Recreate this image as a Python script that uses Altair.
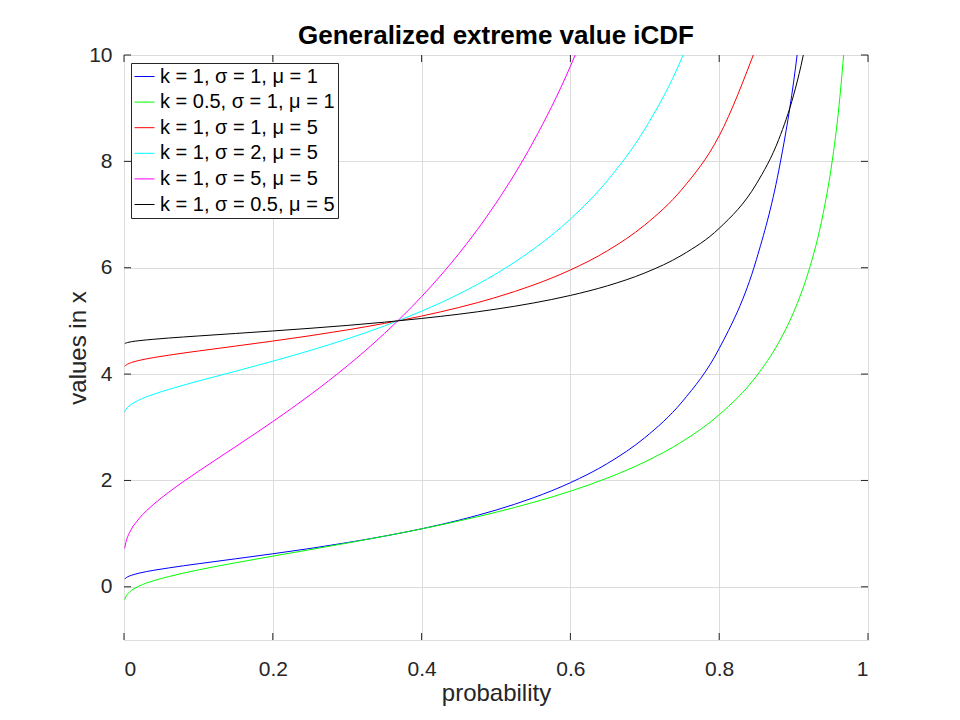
import altair as alt
import pandas as pd

# probabilities at which values are read
prob = [0.001, 0.002, 0.003, 0.005, 0.01, 0.02, 0.04, 0.06, 0.08, 0.1,
        0.15, 0.2, 0.25, 0.3, 0.35, 0.4, 0.45, 0.5, 0.55, 0.6,
        0.65, 0.7, 0.75, 0.8, 0.85, 0.88, 0.9, 0.91, 0.92, 0.94,
        0.95, 0.96, 0.97]

blue_k1_s1_m1 = [0.145, 0.161, 0.172, 0.189, 0.217, 0.256, 0.311, 0.355, 0.396, 0.434,
                 0.527, 0.621, 0.721, 0.831, 0.953, 1.091, 1.252, 1.443, 1.673, 1.958,
                 2.321, 2.804, 3.476, 4.481, 6.153, 7.823, 9.491, 10.603]
green_k05_s1_m1 = [-0.239, -0.198, -0.170, -0.131, -0.068, 0.011, 0.115, 0.192, 0.258, 0.318,
                   0.452, 0.577, 0.699, 0.823, 0.952, 1.089, 1.238, 1.402, 1.587, 1.798,
                   2.047, 2.349, 2.729, 3.235, 3.962, 4.594, 5.161, 5.513, 5.925, 7.039,
                   7.830, 8.901, 10.46]
red_k1_s1_m5 = [4.145, 4.161, 4.172, 4.189, 4.217, 4.256, 4.311, 4.355, 4.396, 4.434,
                4.527, 4.621, 4.721, 4.831, 4.953, 5.091, 5.252, 5.443, 5.673, 5.958,
                6.321, 6.804, 7.476, 8.481, 10.153]
cyan_k1_s2_m5 = [3.290, 3.322, 3.344, 3.377, 3.434, 3.511, 3.621, 3.711, 3.792, 3.869,
                 4.054, 4.243, 4.443, 4.661, 4.905, 5.183, 5.505, 5.885, 6.346, 6.915,
                 7.643, 8.607, 9.952, 11.963]
magenta_k1_s5_m5 = [0.724, 0.805, 0.861, 0.944, 1.086, 1.278, 1.554, 1.777, 1.980, 2.172,
                    2.636, 3.107, 3.607, 4.153, 4.763, 5.457, 6.262, 7.214, 8.364, 9.788,
                    11.607]
black_k1_s05_m5 = [4.572, 4.580, 4.586, 4.594, 4.609, 4.628, 4.655, 4.678, 4.698, 4.717,
                   4.764, 4.811, 4.861, 4.915, 4.976, 5.046, 5.126, 5.221, 5.336, 5.479,
                   5.661, 5.902, 6.238, 6.741, 7.577, 8.411, 9.246, 9.802, 10.495]

series_names = ["k = 1, σ = 1, μ = 1", "k = 0.5, σ = 1, μ = 1", "k = 1, σ = 1, μ = 5",
                "k = 1, σ = 2, μ = 5", "k = 1, σ = 5, μ = 5", "k = 1, σ = 0.5, μ = 5"]
series_values = [blue_k1_s1_m1, green_k05_s1_m1, red_k1_s1_m5,
                 cyan_k1_s2_m5, magenta_k1_s5_m5, black_k1_s05_m5]
series_colors = ["#0000ff", "#00ff00", "#ff0000", "#00ffff", "#ff00ff", "#000000"]

x_ticks = [0, 0.2, 0.4, 0.6, 0.8, 1]
y_ticks = [0, 2, 4, 6, 8, 10]

rows = []
for i, (name, vals) in enumerate(zip(series_names, series_values)):
    for p, v in zip(prob, vals):
        rows.append({"p": p, "x": v, "series": name, "order": i})
df = pd.DataFrame(rows)

W, H = 744, 585
FONT = "Liberation Sans"
TXT = "#262626"

xscale = alt.Scale(domain=[0, 1], nice=False, zero=False)
yscale = alt.Scale(domain=[-1, 10], nice=False, zero=False)

lines = alt.Chart(df).mark_line(strokeWidth=1, clip=True, interpolate="monotone").encode(
    x=alt.X("p:Q", scale=xscale,
            axis=alt.Axis(values=x_ticks, format="~g", title="probability",
                          grid=True, gridColor="#dcdcdc", domain=False, ticks=False,
                          labelFontSize=21, labelColor=TXT, labelPadding=18, labelFont=FONT,
                          titleFontSize=24, titleColor=TXT, titleFont=FONT, titleFontWeight="normal",
                          titlePadding=2)),
    y=alt.Y("x:Q", scale=yscale,
            axis=alt.Axis(values=y_ticks, format="d", title="values in x",
                          grid=True, gridColor="#dcdcdc", domain=False, ticks=False,
                          labelFontSize=21, labelColor=TXT, labelPadding=12, labelFont=FONT,
                          titleFontSize=24, titleColor=TXT, titleFont=FONT, titleFontWeight="normal",
                          titlePadding=-2)),
    color=alt.Color("series:N",
                    scale=alt.Scale(domain=series_names, range=series_colors),
                    legend=alt.Legend(title=None, orient="none", legendX=7, legendY=8,
                                      symbolType="stroke", symbolSize=400, symbolStrokeWidth=1,
                                      labelFontSize=20, labelFont=FONT, labelColor="#000000",
                                      labelLimit=400,
                                      rowPadding=4.6, padding=3, labelOffset=5,
                                      strokeColor=TXT, fillColor="white", cornerRadius=0)),
    detail="series:N",
    order="p:Q",
)

ydf = pd.DataFrame({"v": y_ticks})
xdf = pd.DataFrame({"v": x_ticks})
tick_style = dict(color=TXT, strokeWidth=1)

left_ticks = alt.Chart(ydf).mark_rule(**tick_style).encode(
    y=alt.Y("v:Q", scale=yscale), x=alt.value(0), x2=alt.value(7))
right_ticks = alt.Chart(ydf).mark_rule(**tick_style).encode(
    y=alt.Y("v:Q", scale=yscale), x=alt.value(W - 7), x2=alt.value(W))
bottom_ticks = alt.Chart(xdf).mark_rule(**tick_style).encode(
    x=alt.X("v:Q", scale=xscale), y=alt.value(H - 7), y2=alt.value(H))
top_ticks = alt.Chart(xdf).mark_rule(**tick_style).encode(
    x=alt.X("v:Q", scale=xscale), y=alt.value(0), y2=alt.value(7))

chart = alt.layer(lines, left_ticks, right_ticks, bottom_ticks, top_ticks).properties(
    width=W, height=H,
    title=alt.TitleParams("Generalized extreme value iCDF", fontSize=26, font=FONT,
                          fontWeight="bold", color="#000000", offset=5, dy=10),
    autosize=alt.AutoSizeParams(type="none"),
    padding={"left": 116, "top": 47, "right": 84, "bottom": 80},
).configure_view(stroke=TXT, strokeWidth=1).configure(background="white")

chart.save("out.html", embed_options={"renderer": "svg", "actions": False})
